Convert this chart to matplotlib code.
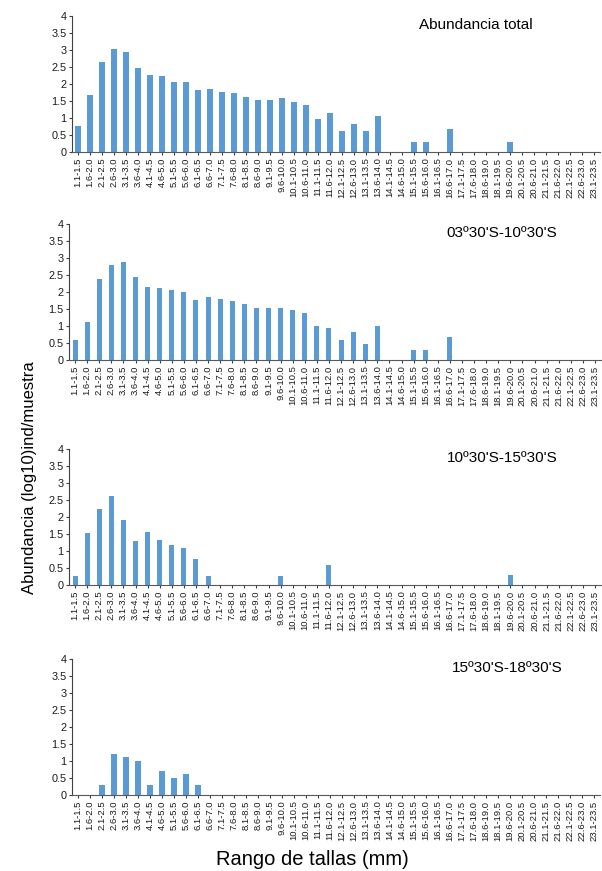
import numpy as np
import matplotlib.pyplot as plt

plt.rcParams['font.family'] = ['Liberation Sans', 'DejaVu Sans']

####################################
#               Data               #
####################################

# size classes (the original chart has 18.6-19.0 / 18.1-19.5 in this order)
tallas = ["1.1-1.5", "1.6-2.0", "2.1-2.5", "2.6-3.0", "3.1-3.5", "3.6-4.0",
          "4.1-4.5", "4.6-5.0", "5.1-5.5", "5.6-6.0", "6.1-6.5", "6.6-7.0",
          "7.1-7.5", "7.6-8.0", "8.1-8.5", "8.6-9.0", "9.1-9.5", "9.6-10.0",
          "10.1-10.5", "10.6-11.0", "11.1-11.5", "11.6-12.0", "12.1-12.5",
          "12.6-13.0", "13.1-13.5", "13.6-14.0", "14.1-14.5", "14.6-15.0",
          "15.1-15.5", "15.6-16.0", "16.1-16.5", "16.6-17.0", "17.1-17.5",
          "17.6-18.0", "18.6-19.0", "18.1-19.5", "19.6-20.0", "20.1-20.5",
          "20.6-21.0", "21.1-21.5", "21.6-22.0", "22.1-22.5", "22.6-23.0",
          "23.1-23.5"]

total = [0.76, 1.68, 2.65, 3.03, 2.94, 2.47, 2.26, 2.24, 2.06, 2.06, 1.82,
         1.85, 1.76, 1.74, 1.62, 1.53, 1.53, 1.59, 1.47, 1.38, 0.97, 1.15,
         0.62, 0.82, 0.62, 1.06, 0, 0, 0.29, 0.29, 0, 0.68, 0, 0, 0, 0, 0.29,
         0, 0, 0, 0, 0, 0, 0]

zona_1 = [0.59, 1.12, 2.38, 2.79, 2.88, 2.44, 2.15, 2.12, 2.06, 2.00, 1.76,
          1.85, 1.79, 1.74, 1.65, 1.53, 1.53, 1.53, 1.47, 1.38, 1.00, 0.94,
          0.59, 0.82, 0.47, 1.00, 0, 0, 0.29, 0.29, 0, 0.69, 0, 0, 0, 0, 0,
          0, 0, 0, 0, 0, 0, 0]

zona_2 = [0.27, 1.53, 2.24, 2.62, 1.91, 1.29, 1.56, 1.32, 1.17, 1.08, 0.76,
          0.27, 0, 0, 0, 0, 0, 0.27, 0, 0, 0, 0.58, 0, 0, 0, 0, 0, 0, 0, 0,
          0, 0, 0, 0, 0, 0, 0.29, 0, 0, 0, 0, 0, 0, 0]

zona_3 = [0, 0, 0.29, 1.20, 1.11, 0.99, 0.29, 0.70, 0.49, 0.61, 0.29, 0, 0,
          0, 0, 0, 0, 0, 0, 0, 0, 0, 0, 0, 0, 0, 0, 0, 0, 0, 0, 0, 0, 0, 0,
          0, 0, 0, 0, 0, 0, 0, 0, 0]

titulos = ["Abundancia total", "03º30'S-10º30'S", "10º30'S-15º30'S",
           "15º30'S-18º30'S"]
series = [total, zona_1, zona_2, zona_3]

####################################
#             Plotting             #
####################################

W, H = 602, 871
fig = plt.figure(figsize=(W / 100, H / 100), dpi=100)

# axes boxes in pixels: left, right, top, bottom
boxes = [(72, 600, 16, 152), (69, 601, 224, 360),
         (69, 601, 449, 585), (72, 600, 659, 795)]
title_pos = [(476, 25), (502, 233), (502, 458), (507, 668)]

x = np.arange(len(tallas))
for vals, tit, (l, r, t, b), (tx, ty) in zip(series, titulos, boxes, title_pos):
    ax = fig.add_axes([l / W, 1 - b / H, (r - l) / W, (b - t) / H])
    ax.bar(x, vals, width=0.42, color='#5B9BD5')
    ax.set_xlim(-0.5, len(tallas) - 0.5)
    ax.set_ylim(0, 4)
    ax.set_yticks(np.arange(0, 4.01, 0.5))
    ax.set_yticklabels(['0', '0.5', '1', '1.5', '2', '2.5', '3', '3.5', '4'])
    ax.set_xticks(x)
    ax.set_xticklabels(tallas, rotation=90)
    ax.tick_params(axis='both', length=2.5, width=0.8,
                   colors='#404040', labelcolor='#1a1a1a', pad=1.5)
    ax.tick_params(axis='x', labelsize=6.8)
    ax.tick_params(axis='y', labelsize=7.8)
    for s in ['top', 'right']:
        ax.spines[s].set_visible(False)
    ax.spines['left'].set_color('#404040')
    ax.spines['bottom'].set_color('#595959')
    fig.text(tx / W, 1 - ty / H, tit, ha='center', va='center', fontsize=11)

fig.text(30 / W, 1 - 478 / H, "Abundancia (log10)ind/muestra", rotation=90,
         ha='center', va='center', fontsize=12)
fig.text(312 / W, 1 - 859 / H, "Rango de tallas (mm)", ha='center',
         va='center', fontsize=14.5)

plt.savefig('out.png', dpi=100)
